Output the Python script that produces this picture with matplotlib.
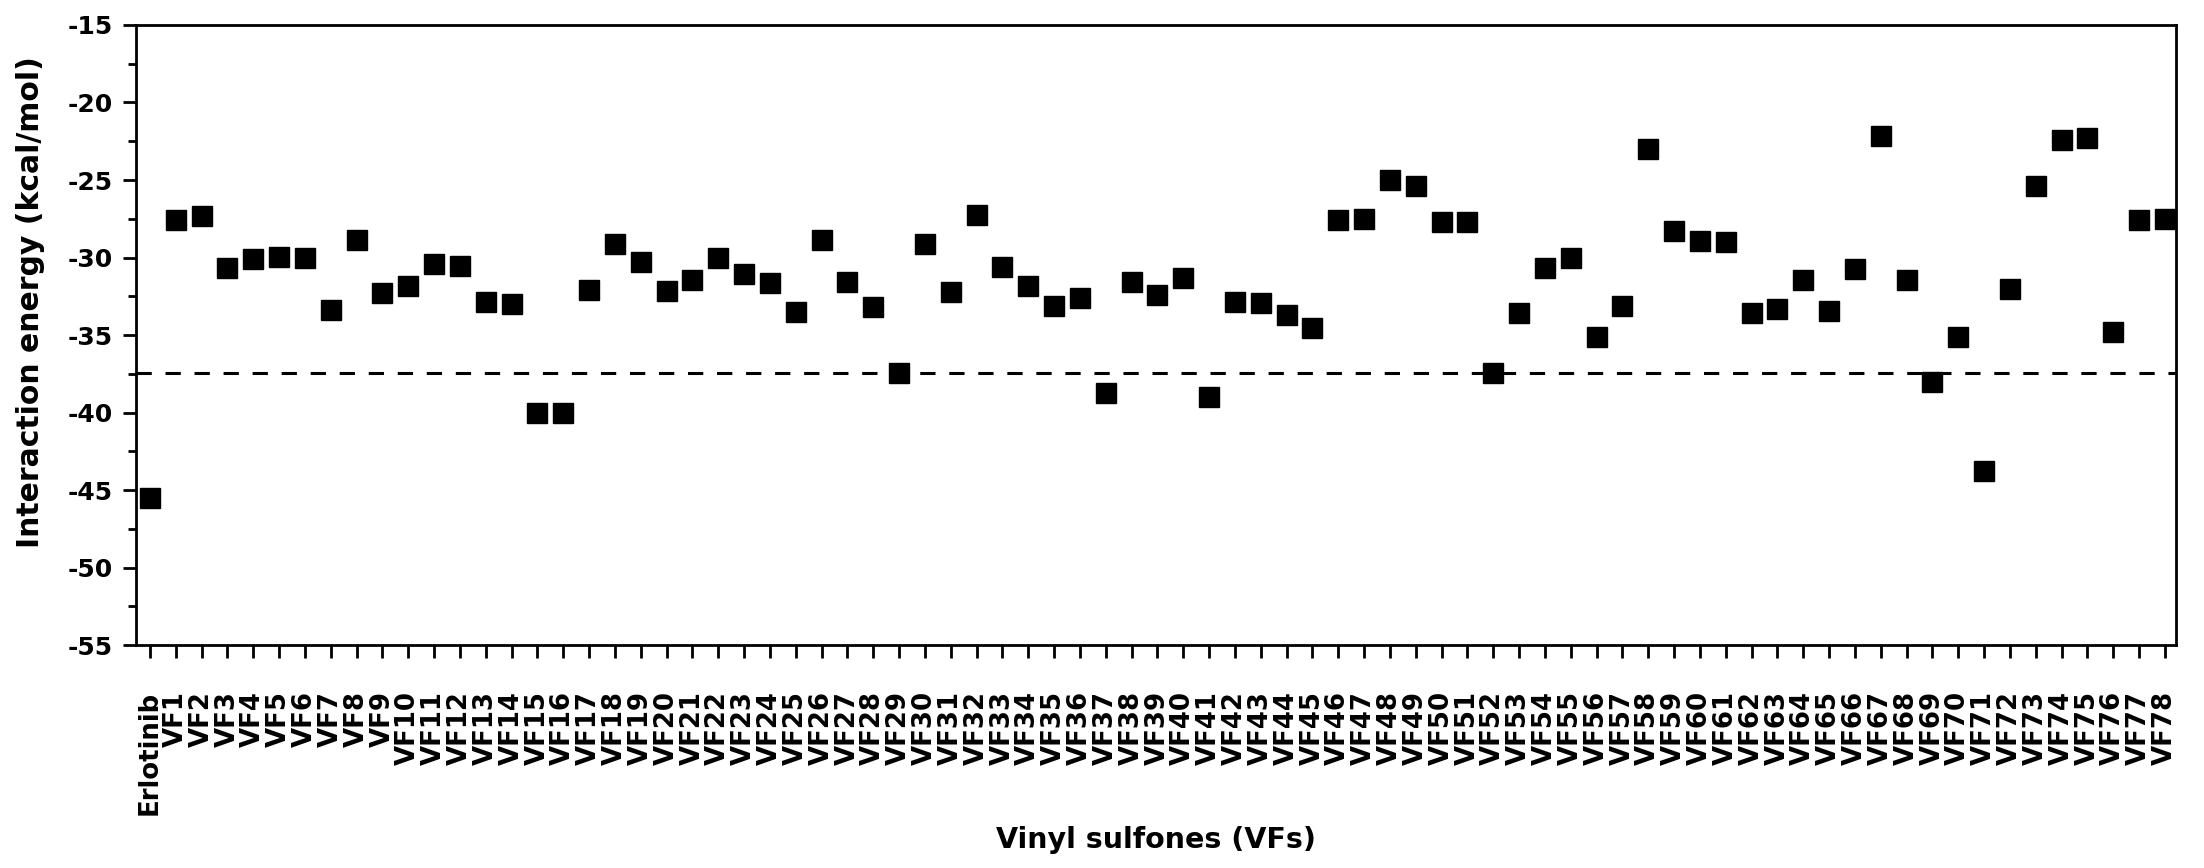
import numpy as np
import matplotlib
matplotlib.use("Agg")
import matplotlib.pyplot as plt
from matplotlib.ticker import MultipleLocator

plt.rcParams['font.family'] = ['DejaVu Sans']
plt.rcParams['font.weight'] = 'bold'
plt.rcParams['axes.unicode_minus'] = False

# compounds: reference drug + 78 vinyl sulfones
compounds = ["Erlotinib"] + ["VF%d" % i for i in range(1, 79)]

energies = [
    -45.5,
    -27.55, -27.3, -30.7, -30.1, -29.95, -30.0, -33.4, -28.85, -32.3, -31.85,   # VF1-10
    -30.45, -30.55, -32.9, -33.0, -40.0, -40.05, -32.1, -29.1, -30.3, -32.15,   # VF11-20
    -31.45, -30.0, -31.05, -31.65, -33.5, -28.9, -31.6, -33.2, -37.45, -29.1,   # VF21-30
    -32.25, -27.25, -30.6, -31.85, -33.1, -32.6, -38.75, -31.55, -32.45, -31.35, # VF31-40
    -39.0, -32.9, -32.95, -33.7, -34.55, -27.6, -27.5, -25.0, -25.4, -27.7,     # VF41-50
    -27.7, -37.45, -33.55, -30.7, -30.05, -35.1, -33.15, -23.0, -28.3, -28.95,  # VF51-60
    -29.0, -33.55, -33.3, -31.45, -33.45, -30.75, -22.15, -31.45, -38.0, -35.1, # VF61-70
    -43.75, -32.0, -25.4, -22.4, -22.3, -34.8, -27.6, -27.5,                    # VF71-78
]

reference_line = -37.42

fig = plt.figure(figsize=(22.04, 8.68), dpi=100)
ax = fig.add_axes([0.0617, 0.2569, 0.9256, 0.7143])

x = np.arange(len(compounds))
ax.plot(x, energies, 's', color='black', markersize=14, linestyle='none')
ax.axhline(reference_line, color='black', linewidth=2.2, linestyle=(0, (5, 4.5)))

ax.set_xlim(-0.54, 78.43)
ax.set_ylim(-55, -15)
ax.set_xticks(x)
ax.set_xticklabels(compounds, rotation=90, fontsize=18.7, fontweight='bold')
ax.yaxis.set_major_locator(MultipleLocator(5))
ax.yaxis.set_minor_locator(MultipleLocator(2.5))
for lab in ax.get_yticklabels():
    lab.set_fontweight('bold')
ax.tick_params(axis='y', which='major', direction='out', length=9.4, width=2, labelsize=18, pad=7)
ax.tick_params(axis='y', which='minor', direction='out', length=6, width=2)
ax.tick_params(axis='x', which='major', direction='out', length=9, width=2, pad=24)

for sp in ax.spines.values():
    sp.set_linewidth(2)

ax.set_ylabel("Interaction energy (kcal/mol)", fontsize=21.5, fontweight='bold', va='center')
ax.yaxis.set_label_coords(-0.0515, 0.553)
ax.set_xlabel("Vinyl sulfones (VFs)", fontsize=20.5, fontweight='bold', va='center')
ax.xaxis.set_label_coords(0.5, -0.315)

fig.savefig("out.png", dpi=100)
